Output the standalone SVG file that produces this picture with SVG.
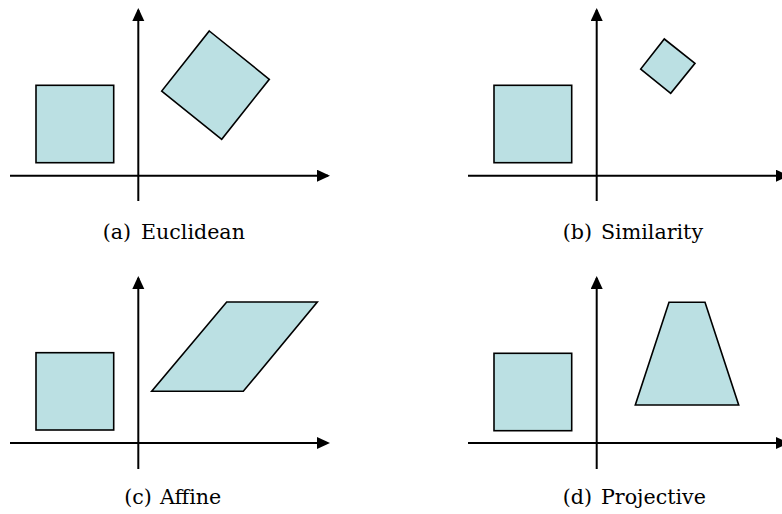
<svg xmlns="http://www.w3.org/2000/svg" width="782" height="514" viewBox="0 0 782 514">
  <defs>
    <marker id="arrow" markerUnits="userSpaceOnUse" markerWidth="14" markerHeight="13" refX="11" refY="6" orient="auto">
      <path d="M0,0 L13,6 L0,12 z" fill="#000"/>
    </marker>
    <style>
      .axis { stroke: #000; stroke-width: 2; fill: none; marker-end: url(#arrow); }
      .shape { fill: #BBE0E3; stroke: #000; stroke-width: 1.6; stroke-linejoin: miter; }
      .label { font-family: "DejaVu Serif", "Liberation Serif", serif; font-size: 20.6px; fill: #000; }
    </style>
  </defs>
  <rect width="782" height="514" fill="#fff"/>

  <g id="connectors">
    <!-- (a) -->
    <line class="axis" x1="10" y1="175.7" x2="328" y2="175.7"/>
    <line class="axis" x1="138.3" y1="201" x2="138.3" y2="10"/>
    <!-- (b) -->
    <line class="axis" x1="468" y1="175.7" x2="787" y2="175.7"/>
    <line class="axis" x1="596.7" y1="201" x2="596.7" y2="10"/>
    <!-- (c) -->
    <line class="axis" x1="10" y1="443" x2="328" y2="443"/>
    <line class="axis" x1="138.3" y1="469" x2="138.3" y2="278"/>
    <!-- (d) -->
    <line class="axis" x1="468" y1="443" x2="787" y2="443"/>
    <line class="axis" x1="596.7" y1="469" x2="596.7" y2="278"/>
  </g>

  <g id="panel-a">
    <rect id="a-square" class="shape" x="36" y="85.3" width="77.7" height="77.4"/>
    <polygon id="a-rotated" class="shape" points="209.3,31 269.3,79.3 221.7,139.3 161.7,91"/>
    <text class="label" y="239"><tspan x="102.7">(a)</tspan><tspan x="141">Euclidean</tspan></text>
  </g>

  <g id="panel-b">
    <rect id="b-square" class="shape" x="494" y="85.3" width="77.7" height="77.4"/>
    <polygon id="b-scaled" class="shape" points="664.3,39 695,63.3 670.7,93.3 640.7,69"/>
    <text class="label" y="239"><tspan x="562.7">(b)</tspan><tspan x="601">Similarity</tspan></text>
  </g>

  <g id="panel-c">
    <rect id="c-square" class="shape" x="36" y="352.7" width="77.7" height="77.3"/>
    <polygon id="c-parallelogram" class="shape" points="226.7,302 317.3,302 243.3,391.3 151.7,391.3"/>
    <text class="label" y="504"><tspan x="124.3">(c)</tspan><tspan x="160">Affine</tspan></text>
  </g>

  <g id="panel-d">
    <rect id="d-square" class="shape" x="494" y="353.3" width="77.7" height="77.4"/>
    <polygon id="d-trapezoid" class="shape" points="669,302.3 705,302.3 738.7,405 635.3,405"/>
    <text class="label" y="504"><tspan x="562.7">(d)</tspan><tspan x="601">Projective</tspan></text>
  </g>
</svg>
